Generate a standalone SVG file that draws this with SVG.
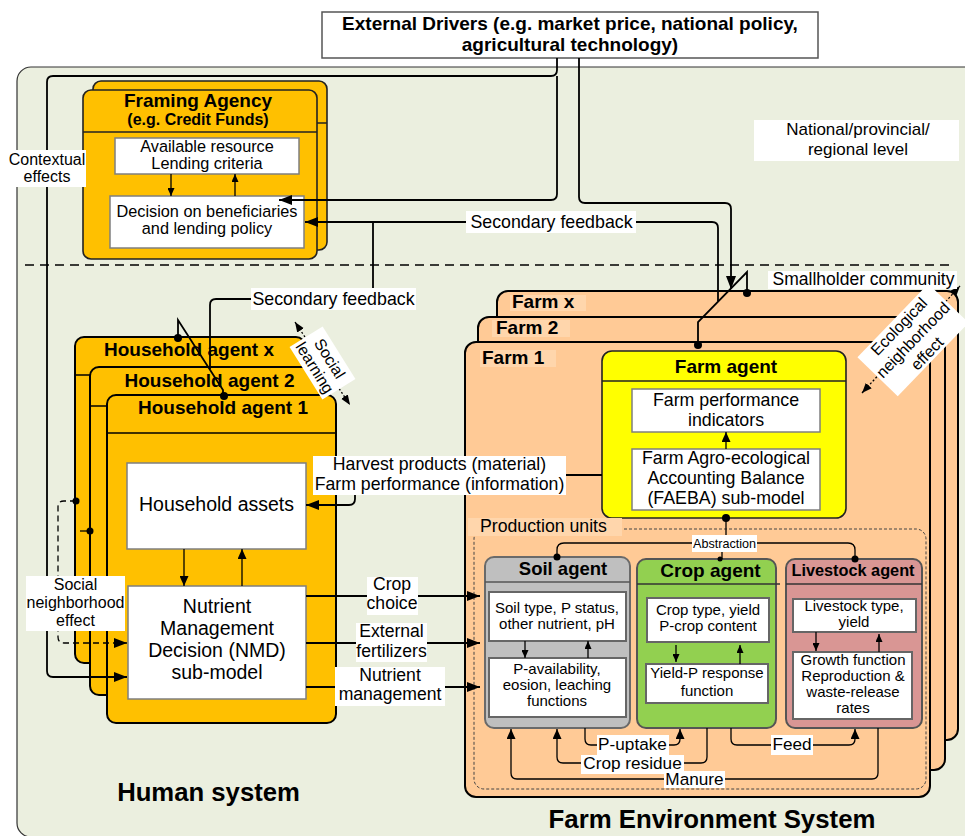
<svg xmlns="http://www.w3.org/2000/svg" width="965" height="836" viewBox="0 0 965 836">
<defs>
<style>
text{font-family:"Liberation Sans",Arial,Helvetica,sans-serif;fill:#000}
.b{font-weight:bold}
.m{text-anchor:middle}
.lb{fill:#fff}
.wb{fill:#fff;stroke:#7f7f7f;stroke-width:1.5}
.wd{fill:#fff;stroke:#666;stroke-width:2}
.ln{fill:none;stroke:#000;stroke-width:1.8}
.ls{fill:none;stroke:#000;stroke-width:1.3}
.fb{fill:#FFD6AC}
.org{fill:#FFC000;stroke:#222;stroke-width:1.6}
.hh{fill:#FFC000;stroke:#000;stroke-width:2}
.farm{fill:#FFCA96;stroke:#000;stroke-width:2}
</style>
<marker id="ah" markerUnits="userSpaceOnUse" markerWidth="14" markerHeight="10" refX="13" refY="5" orient="auto"><path d="M0,0 L13,5 L0,10 z" fill="#000"/></marker>
<marker id="am" markerUnits="userSpaceOnUse" markerWidth="11" markerHeight="9" refX="10" refY="4.5" orient="auto"><path d="M0,0 L10,4.5 L0,9 z" fill="#000"/></marker>
<marker id="as" markerUnits="userSpaceOnUse" markerWidth="9" markerHeight="7" refX="8" refY="3.5" orient="auto"><path d="M0,0 L8,3.5 L0,7 z" fill="#000"/></marker>
<marker id="ad" markerUnits="userSpaceOnUse" markerWidth="11" markerHeight="9" refX="10" refY="4" orient="auto-start-reverse"><path d="M0,0 L10,4 L0,8 z" fill="#000"/></marker>
</defs>

<rect x="17" y="67" width="975" height="770" rx="14" fill="#EBEFDF" stroke="#333" stroke-width="1.2"/>
<line x1="25" y1="265" x2="952" y2="265" stroke="#000" stroke-width="1.3" stroke-dasharray="9,6"/>

<g id="external-drivers">
<rect x="322" y="12" width="496" height="46" fill="#fff" stroke="#555" stroke-width="1.5"/>
<text class="b m" x="570" y="29.5" font-size="19">External Drivers (e.g. market price, national policy,</text>
<text class="b m" x="570" y="51" font-size="19">agricultural technology)</text>
</g>

<g id="framing-agency">
<rect class="org" x="93" y="81" width="234" height="169" rx="8"/>
<line x1="93" y1="123" x2="327" y2="123" stroke="#222" stroke-width="1.3"/>
<rect class="org" x="83" y="90" width="234" height="169" rx="8"/>
<line x1="83" y1="132" x2="317" y2="132" stroke="#222" stroke-width="1.3"/>
<text class="b m" x="198" y="107" font-size="19">Framing Agency</text>
<text class="b m" x="198" y="125" font-size="16">(e.g. Credit Funds)</text>
<rect class="wb" x="115" y="138" width="184" height="36"/>
<text class="m" x="207" y="152" font-size="16.3">Available resource</text>
<text class="m" x="207" y="169" font-size="16.3">Lending criteria</text>
<rect class="wb" x="110" y="196" width="194" height="52"/>
<text class="m" x="207" y="217" font-size="16.3">Decision on beneficiaries</text>
<text class="m" x="207" y="234" font-size="16.3">and lending policy</text>
</g>

<g id="household-agent-x">
<rect class="hh" x="75" y="337" width="230" height="326" rx="9"/>
<line x1="75" y1="375" x2="305" y2="375" stroke="#000" stroke-width="1.5"/>
<text class="b m" x="189" y="356" font-size="19">Household agent x</text>
</g>
<g id="household-agent-2">
<rect class="hh" x="90" y="367" width="230" height="328" rx="9"/>
<line x1="90" y1="406" x2="320" y2="406" stroke="#000" stroke-width="1.5"/>
<text class="b m" x="209.5" y="386.5" font-size="19">Household agent 2</text>
</g>
<g id="household-agent-1">
<rect class="hh" x="107" y="395" width="229" height="328" rx="9"/>
<line x1="107" y1="433" x2="336" y2="433" stroke="#000" stroke-width="1.5"/>
<text class="b m" x="223" y="414" font-size="19">Household agent 1</text>
<rect class="wb" x="127" y="463" width="179" height="86"/>
<text class="m" x="216.5" y="511" font-size="19.5">Household assets</text>
<rect class="wb" x="128" y="586" width="178" height="113"/>
<text class="m" x="217" y="613" font-size="19.5">Nutrient</text>
<text class="m" x="217" y="635" font-size="19.5">Management</text>
<text class="m" x="217" y="657" font-size="19.5">Decision (NMD)</text>
<text class="m" x="217" y="679" font-size="19.5">sub-model</text>
</g>

<g id="farm-x">
<rect class="farm" x="497" y="291" width="461" height="449" rx="11"/>
<rect class="fb" x="510" y="295" width="76" height="16"/>
<text class="b" x="512" y="308" font-size="19">Farm x</text>
</g>
<g id="farm-2">
<rect class="farm" x="478" y="317" width="467" height="453" rx="11"/>
<rect class="fb" x="492" y="320" width="78" height="17"/>
<text class="b" x="496" y="334" font-size="19">Farm 2</text>
</g>
<g id="farm-1">
<rect class="farm" x="465" y="342" width="465" height="455" rx="11"/>
<rect class="fb" x="480" y="350" width="76" height="17"/>
<text class="b" x="482" y="364" font-size="19">Farm 1</text>
</g>

<g id="farm-agent">
<rect x="602" y="351" width="244" height="167" rx="10" fill="#FFFF00" stroke="#222" stroke-width="1.6"/>
<line x1="602" y1="381" x2="846" y2="381" stroke="#222" stroke-width="1.3"/>
<text class="b m" x="726" y="373" font-size="19">Farm agent</text>
<rect class="wb" x="632" y="389" width="188" height="43"/>
<text class="m" x="726" y="406" font-size="17.8">Farm performance</text>
<text class="m" x="726" y="426" font-size="17.8">indicators</text>
<rect class="wb" x="632" y="449" width="188" height="61"/>
<text class="m" x="726" y="464" font-size="17.8">Farm Agro-ecological</text>
<text class="m" x="726" y="484" font-size="17.8">Accounting Balance</text>
<text class="m" x="726" y="504" font-size="17.8">(FAEBA) sub-model</text>
</g>

<g id="production-units">
<rect x="474" y="529" width="452" height="260" rx="10" fill="none" stroke="#444" stroke-width="1" stroke-dasharray="3,2"/>
<rect class="fb" x="468" y="518" width="154" height="18"/>
<text x="480" y="532" font-size="17.7">Production units</text>
</g>

<g id="soil-agent">
<rect x="485" y="557" width="145" height="171" rx="9" fill="#BFBFBF" stroke="#6a6a6a" stroke-width="2"/>
<line x1="485" y1="582" x2="630" y2="582" stroke="#555" stroke-width="1.3"/>
<text class="b m" x="563" y="575" font-size="18.5">Soil agent</text>
<rect class="wd" x="489" y="592" width="137" height="49"/>
<text class="m" x="557" y="613" font-size="15">Soil type, P status,</text>
<text class="m" x="557" y="629" font-size="15">other nutrient, pH</text>
<rect class="wd" x="489" y="658" width="137" height="59"/>
<text class="m" x="557" y="674" font-size="15">P-availability,</text>
<text class="m" x="557" y="690" font-size="15">eosion, leaching</text>
<text class="m" x="557" y="706" font-size="15">functions</text>
</g>

<g id="crop-agent">
<rect x="637" y="559" width="139" height="169" rx="9" fill="#92D050" stroke="#555" stroke-width="2"/>
<line x1="637" y1="584" x2="780" y2="584" stroke="#333" stroke-width="1.3"/>
<text class="b m" x="710.5" y="577" font-size="19">Crop agent</text>
<rect class="wd" x="647" y="598" width="122" height="44"/>
<text class="m" x="708" y="615" font-size="15">Crop type, yield</text>
<text class="m" x="708" y="631" font-size="15">P-crop content</text>
<rect class="wd" x="646" y="664" width="122" height="39"/>
<text class="m" x="707" y="678" font-size="15">Yield-P response</text>
<text class="m" x="707" y="696" font-size="15">function</text>
</g>

<g id="livestock-agent">
<rect x="786" y="559" width="136" height="169" rx="9" fill="#D99694" stroke="#555" stroke-width="2"/>
<line x1="786" y1="584" x2="922" y2="584" stroke="#333" stroke-width="1.3"/>
<text class="b m" x="853" y="576" font-size="16.3">Livestock agent</text>
<rect class="wd" x="793" y="599" width="123" height="33"/>
<text class="m" x="854" y="611" font-size="15">Livestock type,</text>
<text class="m" x="854" y="627" font-size="15">yield</text>
<rect class="wd" x="793" y="652" width="119" height="67"/>
<text class="m" x="853" y="665" font-size="15">Growth function</text>
<text class="m" x="853" y="681" font-size="15">Reproduction &amp;</text>
<text class="m" x="853" y="697" font-size="15">waste-release</text>
<text class="m" x="853" y="713" font-size="15">rates</text>
</g>

<g id="connectors">
<path class="ln" d="M557 58 V70 Q557 76 551 76 H53 Q47 76 47 82 V671 Q47 677 53 677 H127" marker-end="url(#ah)"/>
<path class="ln" d="M557 76 V194 Q557 200 551 200 H279" marker-end="url(#ah)"/>
<path class="ln" d="M579 58 V197 Q579 203 585 203 H725 Q731 203 731 209 V289" marker-end="url(#ah)"/>
<path class="ln" d="M718 301 V228 Q718 222 712 222 H305" marker-end="url(#ah)"/>
<path class="ln" d="M373 222 V293 Q373 299 367 299 H216 Q210 299 210 305 V369"/>
<path class="ln" d="M178 338 V320 L223 390 V396"/>
<circle cx="178" cy="338" r="4"/>
<circle cx="224" cy="396" r="4"/>
<path class="ln" d="M698 345 V322 L747 272 V293"/>
<circle cx="698" cy="345" r="4"/>
<circle cx="747" cy="293" r="4"/>
<path class="ln" d="M602 475 H355 V499 Q355 505 349 505 H306" marker-end="url(#ah)"/>
<path class="ln" d="M306 596 H480" marker-end="url(#ah)"/>
<path class="ln" d="M306 643 H480" marker-end="url(#ah)"/>
<path class="ln" d="M306 687 H480" marker-end="url(#ah)"/>
<path class="ls" d="M76 501 H64 Q58 501 58 507 V637 Q58 643 64 643 H127" stroke-dasharray="6,4" marker-end="url(#ah)"/>
<circle cx="76" cy="501" r="3.5"/>
<line x1="80" y1="531" x2="90" y2="531" stroke="#000" stroke-width="1.3"/>
<circle cx="90" cy="531" r="3.5"/>
<path class="ls" d="M295 322 L350 405" stroke-dasharray="2,2" marker-start="url(#ad)" marker-end="url(#ad)"/>
<path class="ls" d="M862 393 L960 286" stroke-dasharray="2,2" marker-start="url(#ad)" marker-end="url(#ad)"/>
<path class="ls" d="M171 174 V196" marker-end="url(#as)"/>
<path class="ls" d="M235 196 V174" marker-end="url(#as)"/>
<path class="ls" d="M184 549 V586" marker-end="url(#am)"/>
<path class="ls" d="M242 586 V549" marker-end="url(#am)"/>
<path class="ls" d="M726 449 V432" marker-end="url(#am)"/>
<path class="ls" d="M525 641 V658" marker-end="url(#as)"/>
<path class="ls" d="M588 658 V641" marker-end="url(#as)"/>
<path class="ls" d="M676 645 V662" marker-end="url(#as)"/>
<path class="ls" d="M740 664 V645" marker-end="url(#as)"/>
<path class="ls" d="M816 632 V651" marker-end="url(#as)"/>
<path class="ls" d="M879 652 V634" marker-end="url(#as)"/>
<path class="ls" d="M726 518 V536"/>
<circle cx="726" cy="518" r="4"/>
<path class="ls" d="M692 543 H564 Q557 543 557 550 V557"/>
<circle cx="557" cy="557" r="3.5"/>
<path class="ls" d="M757 543 H848 Q855 543 855 550 V559"/>
<circle cx="855" cy="559" r="3.5"/>
<path class="ls" d="M722 551 V559"/>
<circle cx="720" cy="559" r="2.5"/>
<path class="ls" d="M585 728 V739 Q585 745 591 745 H674 Q680 745 680 739 V729" marker-end="url(#am)"/>
<path class="ls" d="M707 728 V757 Q707 763 701 763 H563 Q557 763 557 757 V729" marker-end="url(#am)"/>
<path class="ls" d="M731 728 V739 Q731 745 737 745 H849 Q855 745 855 739 V729" marker-end="url(#am)"/>
<path class="ls" d="M878 728 V773 Q878 779 872 779 H517 Q511 779 511 773 V729" marker-end="url(#am)"/>
</g>

<g id="labels">
<rect class="lb" x="8" y="150" width="78" height="37"/>
<text class="m" x="47" y="165" font-size="16">Contextual</text>
<text class="m" x="47" y="182" font-size="16">effects</text>
<rect class="lb" x="754" y="120" width="205" height="41"/>
<text class="m" x="858" y="135" font-size="17">National/provincial/</text>
<text class="m" x="858" y="155" font-size="17">regional level</text>
<rect class="lb" x="466" y="211" width="170" height="22"/>
<text class="m" x="551.5" y="228" font-size="17.8">Secondary feedback</text>
<rect class="lb" x="251" y="288" width="165" height="22"/>
<text class="m" x="333.5" y="305" font-size="17.8">Secondary feedback</text>
<rect class="lb" x="768" y="271" width="189" height="18"/>
<text class="m" x="863.5" y="284.5" font-size="17.5">Smallholder community</text>
<rect class="lb" x="313" y="456" width="253" height="39"/>
<text class="m" x="439.5" y="470" font-size="17.7">Harvest products (material)</text>
<text class="m" x="439.5" y="490" font-size="17.7">Farm performance (information)</text>
<rect class="lb" x="367" y="577" width="51" height="38"/>
<text class="m" x="392" y="590" font-size="17.6">Crop</text>
<text class="m" x="392" y="609" font-size="17.6">choice</text>
<rect class="lb" x="356" y="623" width="71" height="39"/>
<text class="m" x="391.5" y="637" font-size="17.6">External</text>
<text class="m" x="391.5" y="657" font-size="17.6">fertilizers</text>
<rect class="lb" x="335" y="667" width="110" height="39"/>
<text class="m" x="390" y="681" font-size="17.6">Nutrient</text>
<text class="m" x="390" y="700" font-size="17.6">management</text>
<rect class="lb" x="26" y="576" width="99" height="55"/>
<text class="m" x="75.5" y="590" font-size="16">Social</text>
<text class="m" x="75.5" y="608" font-size="16">neighborhood</text>
<text class="m" x="75.5" y="626" font-size="16">effect</text>
<rect class="lb" x="692" y="535" width="65" height="17"/>
<text class="m" x="724.5" y="548" font-size="12.6">Abstraction</text>
<rect class="lb" x="597" y="735" width="72" height="20"/>
<text class="m" x="632.5" y="749.5" font-size="17.2">P-uptake</text>
<rect class="lb" x="581" y="755" width="103" height="19"/>
<text class="m" x="632.5" y="769" font-size="17.2">Crop residue</text>
<rect class="lb" x="771" y="735" width="42" height="20"/>
<text class="m" x="792" y="749.5" font-size="17.2">Feed</text>
<rect class="lb" x="664" y="771" width="61" height="17"/>
<text class="m" x="694.5" y="785" font-size="17.2">Manure</text>
<g transform="translate(322.5,363) rotate(58)">
<rect class="lb" x="-31" y="-19.5" width="62" height="39"/>
<text class="m" x="0" y="-3" font-size="16">Social</text>
<text class="m" x="0" y="14.5" font-size="16">learning</text>
</g>
<g transform="translate(913,340) rotate(-46)">
<rect class="lb" x="-51" y="-28" width="102" height="56"/>
<text class="m" x="0" y="-14" font-size="16">Ecological</text>
<text class="m" x="0" y="5.5" font-size="16">neighborhood</text>
<text class="m" x="0" y="25" font-size="16">effect</text>
</g>
<text class="b m" x="208.5" y="801" font-size="25.7">Human system</text>
<text class="b m" x="712" y="828" font-size="25.8">Farm Environment System</text>
</g>
</svg>
